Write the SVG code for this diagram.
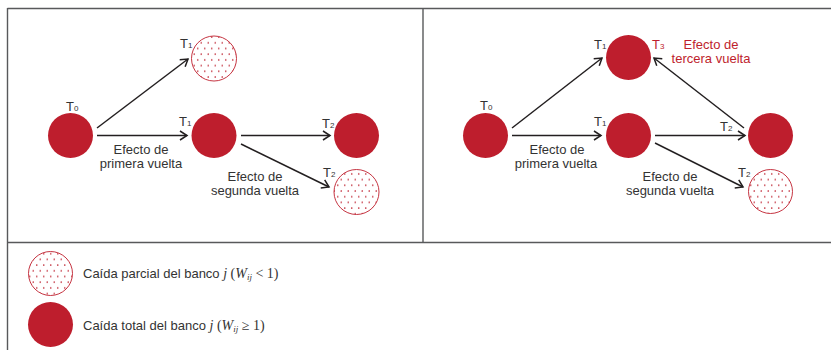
<svg xmlns="http://www.w3.org/2000/svg" width="831" height="350" viewBox="0 0 831 350">
  <style>
    .frame { stroke: #58595b; stroke-width: 1.4; fill: none; }
    .solid { fill: #be1e2d; }
    .dotted { fill: url(#dots); stroke: #be1e2d; stroke-width: 0.9; }
    .conn { stroke: #231f20; stroke-width: 1.5; fill: none; marker-end: url(#arrow); }
    .lbl { font-family: "Liberation Sans", Arial, sans-serif; font-size: 13px; fill: #333; }
    .red { fill: #be1e2d; }
    .sub { font-size: 8px; }
    .ser { font-family: "Liberation Serif", "Times New Roman", serif; font-size: 14px; }
    .ssub { font-size: 9px; }
    .it { font-style: italic; }
  </style>
  <defs>
    <pattern id="dots" patternUnits="userSpaceOnUse" width="7" height="11.4">
      <rect width="7" height="11.4" fill="#ffffff"/>
      <circle cx="1.75" cy="2.85" r="0.8" fill="#be1e2d"/>
      <circle cx="5.25" cy="8.55" r="0.8" fill="#be1e2d"/>
    </pattern>
    <marker id="arrow" markerUnits="userSpaceOnUse" markerWidth="12" markerHeight="12" refX="0" refY="0" viewBox="-9 -6 10 12" orient="auto">
      <path d="M-7,-4.5 L0,0 L-7,4.5" fill="none" stroke="#231f20" stroke-width="1.5"/>
    </marker>
  </defs>
  <rect width="831" height="350" fill="#ffffff"/>

  <g id="frame">
    <line class="frame" x1="7.5" y1="8.5" x2="831" y2="8.5"/>
    <line class="frame" x1="7.5" y1="8" x2="7.5" y2="350"/>
    <line class="frame" x1="423" y1="8.5" x2="423" y2="242.5"/>
    <line class="frame" x1="7.5" y1="242.5" x2="831" y2="242.5"/>
  </g>

  <g id="connectors">
    <line class="conn" x1="97" y1="128" x2="188" y2="59"/>
    <line class="conn" x1="97" y1="135.5" x2="187" y2="135.5"/>
    <line class="conn" x1="241" y1="135.5" x2="330" y2="135.5"/>
    <line class="conn" x1="241" y1="144" x2="329" y2="187"/>
    <line class="conn" x1="512" y1="128" x2="602" y2="58"/>
    <line class="conn" x1="512" y1="135.5" x2="601" y2="135.5"/>
    <line class="conn" x1="655" y1="135.5" x2="745" y2="135.5"/>
    <line class="conn" x1="655" y1="143" x2="743" y2="187"/>
    <line class="conn" x1="744" y1="128" x2="654" y2="58"/>
  </g>

  <!-- Left panel -->
  <g id="L_T0">
    <circle class="solid" cx="70.5" cy="135.5" r="22.5"/>
    <text class="lbl" x="66" y="111">T<tspan class="sub">0</tspan></text>
  </g>
  <g id="L_T1_partial">
    <circle class="dotted" cx="214" cy="58.5" r="22.5"/>
    <text class="lbl" x="180" y="48">T<tspan class="sub">1</tspan></text>
  </g>
  <g id="L_T1_total">
    <circle class="solid" cx="214" cy="135.5" r="22.5"/>
    <text class="lbl" x="179" y="126">T<tspan class="sub">1</tspan></text>
  </g>
  <g id="L_T2_total">
    <circle class="solid" cx="356.5" cy="135.5" r="22.5"/>
    <text class="lbl" x="322" y="128">T<tspan class="sub">2</tspan></text>
  </g>
  <g id="L_T2_partial">
    <circle class="dotted" cx="356.5" cy="192" r="22.5"/>
    <text class="lbl" x="323" y="177">T<tspan class="sub">2</tspan></text>
  </g>
  <g id="L_labels">
    <text class="lbl" x="141" y="153.5" text-anchor="middle">Efecto de</text>
    <text class="lbl" x="141" y="167.5" text-anchor="middle">primera vuelta</text>
    <text class="lbl" x="255" y="181" text-anchor="middle">Efecto de</text>
    <text class="lbl" x="255" y="195" text-anchor="middle">segunda vuelta</text>
  </g>

  <!-- Right panel -->
  <g id="R_T0">
    <circle class="solid" cx="485.5" cy="135.5" r="22.5"/>
    <text class="lbl" x="480" y="110">T<tspan class="sub">0</tspan></text>
  </g>
  <g id="R_T1_T3_total">
    <circle class="solid" cx="628.5" cy="57.5" r="22.5"/>
    <text class="lbl" x="594" y="49">T<tspan class="sub">1</tspan></text>
    <text class="lbl red" x="652" y="49">T<tspan class="sub">3</tspan></text>
  </g>
  <g id="R_T1_total">
    <circle class="solid" cx="628.5" cy="135.5" r="22.5"/>
    <text class="lbl" x="594" y="126">T<tspan class="sub">1</tspan></text>
  </g>
  <g id="R_T2_total">
    <circle class="solid" cx="770.5" cy="135.5" r="22.5"/>
    <text class="lbl" x="720" y="131">T<tspan class="sub">2</tspan></text>
  </g>
  <g id="R_T2_partial">
    <circle class="dotted" cx="770.5" cy="191.5" r="22"/>
    <text class="lbl" x="738" y="177">T<tspan class="sub">2</tspan></text>
  </g>
  <g id="R_labels">
    <text class="lbl red" x="711" y="48.5" text-anchor="middle">Efecto de</text>
    <text class="lbl red" x="711" y="62.5" text-anchor="middle">tercera vuelta</text>
    <text class="lbl" x="557" y="153.5" text-anchor="middle">Efecto de</text>
    <text class="lbl" x="556" y="167.5" text-anchor="middle">primera vuelta</text>
    <text class="lbl" x="670" y="181" text-anchor="middle">Efecto de</text>
    <text class="lbl" x="670" y="195" text-anchor="middle">segunda vuelta</text>
  </g>

  <!-- Legend -->
  <g id="legend_partial">
    <circle class="dotted" cx="50.5" cy="273.5" r="22"/>
    <text class="lbl" x="83" y="278">Caída parcial del banco <tspan class="ser it">j</tspan><tspan class="ser"> (</tspan><tspan class="ser it">W</tspan><tspan class="ser it ssub" dy="2">ij</tspan><tspan class="ser" dy="-2"> &lt; 1)</tspan></text>
  </g>
  <g id="legend_total">
    <circle class="solid" cx="50.5" cy="324.5" r="22.5"/>
    <text class="lbl" x="83" y="330">Caída total del banco <tspan class="ser it">j</tspan><tspan class="ser"> (</tspan><tspan class="ser it">W</tspan><tspan class="ser it ssub" dy="2">ij</tspan><tspan class="ser" dy="-2"> ≥ 1)</tspan></text>
  </g>
</svg>
